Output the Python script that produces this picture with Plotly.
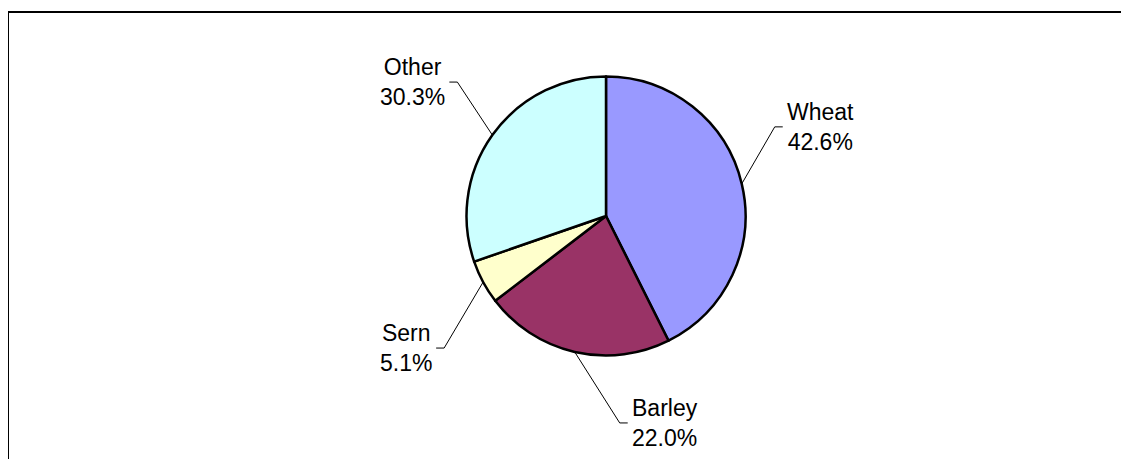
import math
import plotly.graph_objects as go

# ---- data ----
categories = ["Wheat", "Barley", "Sern", "Other"]
shares = [42.6, 22.0, 5.1, 30.3]
colors = ["#9999FF", "#993366", "#FFFFCC", "#CCFFFF"]

# ---- layout constants (screen pixels) ----
W, H = 1129, 459
OFF = 8  # page body margin
CX, CY, R = 606, 216, 139.5
# elbow offsets of leader lines from the slice edge point (dx, dy) in px
elbow_offsets = {"Wheat": (33, -57), "Barley": (45, 71), "Sern": (-39, 66), "Other": (-35, -53)}
TICK = 8
GAP = 2
FS = 23


def px(x):
    return (x - OFF) / W


def py(y):
    return 1 - (y - OFF) / H


fig = go.Figure()
fig.add_trace(go.Pie(
    labels=categories,
    values=shares,
    sort=False,
    direction="clockwise",
    rotation=0,
    textinfo="none",
    hoverinfo="label+percent",
    marker=dict(colors=colors, line=dict(color="black", width=2.5)),
    domain=dict(x=[px(CX - R), px(CX + R)], y=[py(CY + R), py(CY - R)]),
    showlegend=False,
))

shapes = [
    dict(type="rect", xref="paper", yref="paper",
         x0=px(8), x1=1.02, y0=-0.02, y1=py(12),
         line=dict(color="black", width=2), fillcolor="rgba(0,0,0,0)"),
]
annotations = []
total = sum(shares)
cum = 0.0
for cat, v in zip(categories, shares):
    mid = (cum + v / 2) / total * 2 * math.pi
    cum += v
    ax_ = CX + R * math.sin(mid)
    ay_ = CY - R * math.cos(mid)
    dx, dy = elbow_offsets[cat]
    ex, ey = ax_ + dx, ay_ + dy
    side = 1 if dx > 0 else -1
    tx = ex + side * TICK
    shapes.append(dict(
        type="path", xref="paper", yref="paper",
        path=f"M {px(ax_)} {py(ay_)} L {px(ex)} {py(ey)} L {px(tx)} {py(ey)}",
        line=dict(color="black", width=1),
    ))
    annotations.append(dict(
        xref="paper", yref="paper",
        x=px(tx + side * GAP), y=py(ey),
        xanchor="left" if side > 0 else "right", yanchor="middle",
        text=f"{cat}<br>{v:.1f}%", showarrow=False, align="center",
        font=dict(family="Liberation Sans, Arial, sans-serif", size=FS, color="black"),
    ))

fig.update_layout(
    width=W, height=H,
    margin=dict(l=0, r=0, t=0, b=0),
    paper_bgcolor="white", plot_bgcolor="white",
    shapes=shapes, annotations=annotations,
    font=dict(family="Liberation Sans, Arial, sans-serif"),
)

fig.write_html("out.html")
